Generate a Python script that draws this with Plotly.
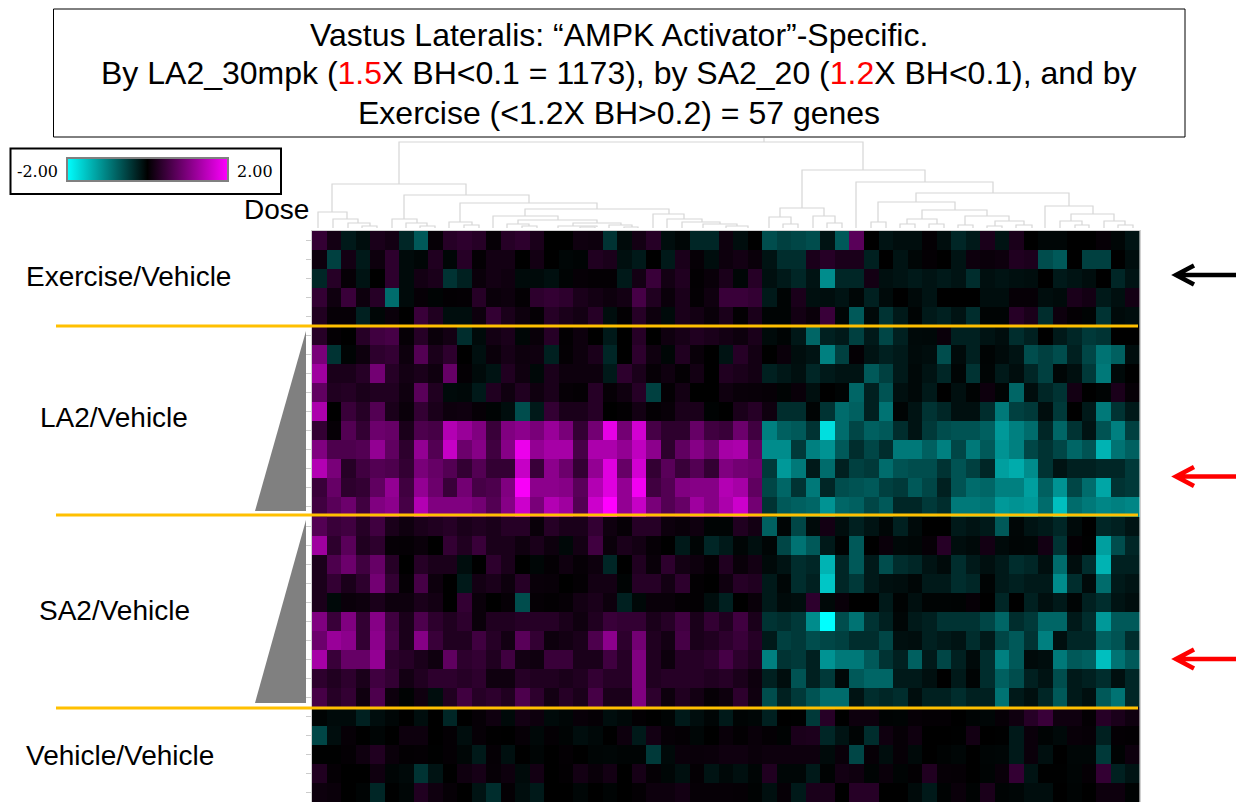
import plotly.graph_objects as go

W, H = 1244, 802

exercise_rows = [
 [.4,.15,-.2,-.1,.2,.15,-.3,-.7,.05,.3,.35,.3,.05,.3,.35,.2,0,0,.12,.1,-.4,-.08,.15,.3,-.1,-.05,-.3,-.3,.1,-.1,0,-.6,-.5,-.55,-.6,-.15,-.7,.7,0,-.15,-.1,-.1,.03,-.1,-.3,-.2,.2,-.15,.2,0,-.05,-.05,0,0,.05,-.05,-.15],
 [.1,-.5,.15,-.2,.1,.35,-.08,-.05,.25,-.05,.3,.03,.15,.15,0,.15,0,-.05,-.03,.25,.2,-.12,-.2,0,-.2,.2,.05,-.1,.1,.15,.08,-.15,-.35,-.35,.2,.3,.2,.2,-.25,0,-.15,-.05,.03,0,-.15,.1,.08,.1,.25,.22,-.6,-.7,0,-.5,-.5,0,-.1],
 [-.3,.3,.05,-.15,0,.35,-.08,.15,.2,-.4,-.25,.08,.15,.12,-.08,-.08,-.12,-.03,.05,.03,.03,-.2,.15,.45,.15,.25,.02,.07,.2,-.05,.3,-.12,-.2,-.3,-.15,-1.1,-.3,-.3,.15,-.12,-.15,-.2,-.15,-.2,-.15,-.35,-.12,-.15,-.12,-.1,0,-.2,-.15,-.1,0,-.3,-.15],
 [.4,.12,.45,.1,.3,-.85,-.08,.05,-.03,.02,.03,.3,.08,.1,.03,.35,.4,.35,.2,.15,.1,.15,.55,.25,.08,.2,.03,.12,.45,.45,.4,-.2,-.03,.2,-.12,-.1,-.15,-.05,-.25,-.08,0,-.07,-.15,0,0,0,-.1,-.1,.05,.05,-.1,-.08,.2,.15,-.2,-.12,.15],
 [.25,.05,.05,-.25,-.05,.08,0,.45,.25,-.1,-.1,.1,.4,.2,.1,.04,.3,.2,.15,.3,-.1,.02,.3,.1,-.08,.2,.15,.07,.2,.02,.2,-.03,-.03,.15,.08,.45,-.05,-.7,-.07,-.4,-.2,-.03,-.2,-.25,-.15,-.35,-.03,-.03,.3,.2,-.35,.1,.03,-.03,-.4,-.08,-.1],
]
la2_rows = [
 [.3,.03,0,.3,.5,.55,.05,.3,.08,.15,-.35,-.08,.15,.2,-.05,.07,.3,.02,.1,0,-.2,0,.3,0,.12,.18,.25,.2,.15,.1,.2,-.08,-.03,-.18,-.8,-.25,-.2,-.5,-.2,-.55,-.25,-.07,-.06,.08,-.25,-.25,-.15,-.1,-.35,-.25,0,-.2,-.3,-.45,-.4,0,0],
 [.95,-.4,-.03,.1,.35,.4,.1,.65,.2,.35,0,-.12,.08,.17,.1,.12,-.25,.03,.1,.2,-.3,0,.35,.12,-.05,.25,.07,0,-.15,.3,.15,0,.08,-.1,-.15,-1.0,-.5,.03,-.15,-.25,-.2,-.08,-.1,-.6,-.08,-.25,-.03,-.08,-.15,-.6,-.5,-.6,-.25,-.55,-.9,-.75,-.1],
 [1.25,.2,.2,.3,.9,.3,.15,.2,.12,.8,.03,-.08,-.15,.25,.12,-.06,.2,.1,.1,.1,-.2,.35,.2,.05,.12,.03,.15,0,.25,.2,.15,-.25,-.18,-.12,-.3,-.2,-.15,-.15,-.7,-.5,-.2,-.06,-.15,-.3,-.04,-.4,-.04,-.2,-.1,-.3,-.5,-.05,-.12,-.45,-.95,-.07,0],
 [.75,.25,.28,.2,.25,.25,.12,.7,.25,-.08,-.06,-.2,.25,.12,.25,.12,.2,.05,.03,.3,.05,.12,.3,-.5,.03,.15,0,0,.12,.07,.06,.05,-.03,.07,-.12,0,-.03,-.8,-.25,-.65,-.12,-.06,-.2,0,-.12,-.02,.1,-.03,-.8,-.1,-.3,-.4,.15,0,-.03,.2,.05],
 [1.35,0,.45,.3,.65,.2,.08,.4,.2,.1,.12,.05,-.03,-.1,-.6,-.2,.4,.2,.2,.3,0,.02,.15,.03,.06,.2,.2,-.02,0,.2,.3,.12,-.35,-.35,-.03,-.4,-.85,-.75,-.25,-.9,-.03,-.15,-.4,-.3,-.12,-.12,-.35,-.95,-.5,-.45,-.1,-.45,0,-.2,-.95,-.4,-.2],
 [.4,.05,.65,.4,.85,.8,.2,.6,.55,1.4,1.2,1.0,.45,1.0,1.1,.95,1.2,.95,.4,.9,1.8,.9,1.65,.55,.35,.35,.8,.5,.45,.85,.5,-1.0,-.75,-.7,-.4,-1.75,-.85,-.55,-.75,-.7,-.35,-.15,-.45,-.6,-.65,-.65,-.75,-1.2,-1.0,-.85,-.3,-.8,-.4,-.15,-.65,-1.0,-.5],
 [1.0,.6,.6,.65,1.15,.75,.35,1.15,.65,1.55,.85,1.05,.5,1.05,1.85,1.15,1.3,1.3,.55,1.35,1.35,1.15,1.5,1.1,.35,.75,1.05,.85,1.3,1.35,.75,-1.1,-1.1,-.45,-1.0,-1.15,-.7,-.35,-.55,-.35,-.95,-.95,-.75,-1.0,-.55,-.95,-.7,-1.15,-1.0,-.55,-.4,-.55,-.8,-.65,-1.4,-.9,-.75],
 [1.4,.95,.3,.5,.65,.6,.4,.95,.8,.65,.4,.65,.4,.4,1.55,.45,1.1,.85,.4,1.15,1.75,.8,1.65,.4,.7,.45,.65,.4,1.0,.9,.85,-.45,-1.2,-.95,-.2,-.85,-.25,-.5,-.45,-.85,-.65,-.6,-.6,-.4,-.65,-.5,-.3,-1.25,-1.35,-1.1,-.4,-.15,-.25,-.25,-.3,-.3,-.45],
 [.45,.8,.35,.4,.75,1.15,.5,1.15,.85,.45,.9,.55,.6,1.0,1.95,1.1,1.1,1.05,.7,1.4,1.75,1.15,1.9,.5,.65,1.0,1.05,1.05,1.4,1.3,.75,-.55,-.8,-.4,-.95,-.3,-.6,-.65,-.7,-.5,-.45,-.7,-.55,-.25,-.65,-.85,-.8,-1.0,-1.0,-1.25,-.75,-1.15,-.55,-.85,-1.3,-.4,-.45],
 [.5,.7,.85,.5,1.0,1.1,.55,1.4,1.0,1.0,1.0,.9,.65,1.05,1.6,.95,1.4,1.25,.65,1.6,2.0,1.15,1.55,.95,.65,.8,1.25,1.05,1.35,1.6,.9,-.4,-.7,-.75,-.8,-1.15,-.8,-.75,-.55,-.7,-.3,-.3,-.45,-.35,-.95,-.95,-.9,-1.2,-1.15,-1.2,-.85,-1.5,-.85,-.95,-1.05,-1.0,-1.05],
]
sa2_rows = [
 [.65,.45,.5,.3,.5,.2,.12,.2,.25,.3,.2,.25,.2,.3,.3,.07,.3,.2,.2,.4,.12,.05,.3,.3,.1,.07,.12,-.03,-.03,.25,.15,-.75,-.04,-.55,-.08,.15,-.1,-.25,-.15,-.05,-.25,-.08,0,0,-.2,-.15,-.2,-.7,-.05,-.15,-.2,-.3,-.08,0,-.3,-.25,-.15],
 [1.25,.35,.7,.25,.35,.05,.04,.08,0,.4,.25,.45,.2,.2,.12,.2,.1,-.06,.15,.5,.08,.2,.15,.05,0,-.2,-.04,-.3,-.2,-.04,-.12,-.04,-.55,-.9,-.7,-.2,-.02,-.7,0,.08,-.06,-.05,.05,.3,-.1,-.07,.15,-.08,-.04,-.05,.15,-.4,.03,-.01,-1.25,-.6,-.3],
 [.2,.6,.85,.5,.8,.3,0,.3,.2,.2,-.1,0,.35,.2,0,-.05,.03,.12,.05,.1,-.3,0,.25,.07,.35,.15,.1,.03,.25,.07,.15,-.07,-.15,-.35,-.3,-1.4,-.3,-.7,-.2,-.6,-.35,-.3,-.15,-.08,-.35,-.2,-.12,-.2,-.35,-.3,-.12,-.85,-.1,-.35,-1.4,-.25,-.25],
 [.2,.4,.2,.35,.9,.4,.04,.55,.1,0,-.2,.15,.2,.1,.3,.07,.06,0,.03,.15,.15,-.03,.3,.3,.15,.35,.02,0,.12,.3,.25,-.2,-.05,-.35,-.25,-1.55,-.3,-.45,-.2,-.12,-.1,-.05,-.2,-.2,-.35,-.3,-.03,-.2,-.25,-.2,-.2,-1.1,-.35,-.08,-.85,-.2,-.15],
 [.2,-.07,.08,.1,.2,.1,.1,.2,.15,0,.4,.08,0,.05,-.6,.04,.02,.05,.15,.2,.1,-.25,-.06,.07,.07,.03,.02,-.1,-.25,0,.07,-.2,-.08,-.1,.35,-.06,.07,0,0,-.2,-.02,-.12,-.03,-.03,-.02,.05,0,-.3,0,-.25,-.12,-.2,-.04,-.25,-.35,-.15,-.1],
 [1.0,.45,1.0,.4,1.05,.5,.2,.6,.35,.25,.35,.08,.25,.25,.3,.3,.3,.2,.12,.25,.45,.4,.4,.2,.3,.5,.2,.4,.25,.5,.2,-.4,-.35,-.45,-1.1,-2.0,-.6,-.9,-.4,-.25,-.05,-.2,-.25,-.4,-.4,-.4,-.55,-.8,-.35,-.45,-.8,-.8,-.2,-.35,-1.2,-.7,-.7],
 [.85,1.2,1.1,.4,1.1,.55,.2,1.05,.45,.25,.25,.5,.3,.15,.7,.4,.1,.15,.2,.6,1.1,.35,.9,.25,.15,.55,.2,.25,.35,.45,.3,-.2,-.5,-.45,-.6,-.55,-.5,-.35,-.35,-.55,-.12,-.1,-.25,-.2,-.15,-.35,-.2,-.55,-.7,-.4,-1.0,-.12,-.3,-.3,-.75,-.65,-.35],
 [1.3,.45,.8,.8,1.15,.35,.3,.2,.12,.75,.35,.4,.25,.5,.15,.12,.45,.45,.2,.2,.5,.3,1.0,.25,.1,.3,.3,.35,.55,.35,.25,-1.0,-.4,-.45,-.25,-1.15,-.95,-.95,-.7,-.4,-.25,-.75,-.2,-.55,-.25,-.08,-.35,-1.0,-.7,-.08,-.1,-.95,-.7,-.75,-1.5,-.9,-.7],
 [.35,.25,.35,.2,.5,.4,.15,.25,.35,.35,.3,.35,.12,.12,.3,.25,.25,.2,.25,.4,.3,.3,1.0,.25,.3,.3,.3,.25,.3,.2,.1,-.25,-.1,-.65,-.25,-.45,-.06,-.7,-.8,-.8,-.2,-.2,-.12,0,-.2,-.03,-.35,-.75,-.6,-.25,-.15,-.6,-.2,-.25,-.35,-.12,-.3],
 [.55,.3,.4,.12,.6,.1,-.02,.12,-.1,.25,.5,.3,.35,.25,.6,.35,.15,.3,.2,.55,.2,.2,1.0,.35,.1,.25,.15,.05,.1,.35,.12,-.6,-.25,-.45,-.65,-.85,-.85,-.15,-.35,-.3,-.35,-.1,-.25,-.25,-.35,-.25,-.25,-.9,-.2,-.12,-.3,-.7,-.2,-.12,-.7,-.9,-.3],
]
vehicle_rows = [
 [-.03,-.08,-.08,-.25,-.1,-.05,0,-.1,0,-.3,0,.05,.12,-.07,.15,.1,-.08,-.05,.06,.04,-.1,-.06,.02,0,-.03,-.2,-.1,-.04,-.2,-.03,-.05,-.25,0,-.01,-.45,.3,0,.1,.1,-.02,-.03,.05,.03,.03,0,-.03,-.05,.05,.12,.3,.45,.12,.12,.03,.3,.2,.12],
 [-.55,-.1,.05,0,-.04,0,.1,.1,0,.03,-.1,.05,.01,0,.05,-.06,.03,-.03,-.1,-.06,0,.1,-.2,.15,.05,.03,-.05,0,.07,.02,.07,.03,-.02,.2,.22,-.3,-.15,-.03,-.35,.12,.05,.12,0,0,-.01,.15,0,-.01,-.2,.08,-.03,-.07,.06,.05,-.25,.03,.02],
 [-.01,-.01,.03,.12,.25,.08,.02,.03,-.01,.03,-.05,-.2,.04,-.12,0,-.04,0,.03,0,-.04,-.05,-.03,-.03,-.45,-.07,.08,.07,.08,.12,.12,.08,.1,.1,.1,.1,-.08,.07,-.55,.05,-.1,.05,-.07,0,-.02,-.05,0,-.04,-.05,-.2,.08,-.12,0,-.05,-.05,-.45,-.02,.1],
 [.25,.04,0,0,.12,-.04,-.07,-.4,-.15,0,.12,.17,.05,.1,-.08,.15,0,.02,.15,.07,.15,0,.17,.04,-.05,-.12,.03,-.15,-.06,-.12,-.04,.25,-.05,-.05,-.2,-.02,.15,.12,-.03,.08,-.03,.02,.25,.05,.04,0,-.03,.07,.4,-.15,-.01,-.01,-.04,.04,.4,-.25,-.15],
 [.1,.08,0,-.03,-.3,-.01,-.05,.25,.12,.05,0,-.15,-.35,.03,-.1,-.2,0,0,-.05,0,-.03,0,.03,.1,.1,.15,.05,.05,.05,.04,-.02,-.12,.05,-.2,.2,.2,0,.3,.3,0,0,-.08,-.2,-.02,.08,-.02,.2,-.03,-.05,-.1,-.1,0,-.03,0,.1,.1,-.02],
]
z_values = exercise_rows + la2_rows + sa2_rows + vehicle_rows
columns = list(range(57))
rows = list(range(30))

# dendrogram merges: left pos, right pos, merge height, left child height, right child height
dendro_merges = [
 (764,764,90,86,86),(399,863,86,44,58),(332,466,44,16,33),(318,347,16,0,9),(333,358,9,0,5),(348,370,5,0,2),(362,377,2,0,0),
 (404,529,33,9,25),(392,417,9,0,5),(406,427,5,0,2),(420,435,2,0,0),(460,597,25,6,19),(449,472,6,0,3),(464,479,3,0,0),
 (525,669,19,12,14),(493,558,12,0,8),(518,597,8,4,5),(507,529,4,0,2),(522,537,2,0,0),(573,621,5,2,3),(558,597,2,0,1),
 (580,595,1,0,0),(609,632,3,0,1),(624,638,1,0,0),(653,684,14,0,9),(667,702,9,0,6),(682,720,6,0,4),(703,737,4,0,2),(726,748,2,0,0),
 (802,925,58,20,46),(780,824,20,11,12),(769,791,11,0,4),(783,798,4,0,0),(813,835,12,0,5),(827,842,5,0,0),
 (856,993,46,0,35),(916,1069,35,26,22),(878,955,26,6,18),(871,886,6,0,0),(922,987,18,9,12),(907,937,9,4,4),(900,915,4,0,0),(929,944,4,0,0),
 (965,1009,12,3,7),(958,973,3,0,0),(995,1024,7,2,3),(987,1002,2,0,0),(1016,1032,3,0,0),
 (1045,1093,22,0,14),(1071,1114,14,7,7),(1060,1082,7,0,3),(1075,1089,3,0,0),(1104,1125,7,0,3),(1118,1133,3,0,0),
]
title_lines = [
 "Vastus Lateralis: “AMPK Activator”-Specific.",
 'By LA2_30mpk (<span style="color:#ff0000">1.5</span>X BH&lt;0.1 = 1173), by SA2_20 (<span style="color:#ff0000">1.2</span>X BH&lt;0.1), and by',
 "Exercise (&lt;1.2X BH&gt;0.2) = 57 genes",
]
group_labels = ["Exercise/Vehicle", "LA2/Vehicle", "SA2/Vehicle", "Vehicle/Vehicle"]


def px(x):
    return x / W


def py(y):
    return 1 - y / H


def text(s, x, y, size, anchor="center", family="Liberation Sans", color="#000000"):
    return dict(text=s, xref="paper", yref="paper", x=px(x), y=py(y), xanchor=anchor, yanchor="middle",
                showarrow=False, font=dict(family=family, size=size, color=color), align="center")


def path(d):
    out = []
    for cmd, x, y in d:
        out.append(f"{cmd}{px(x):.5f},{py(y):.5f}")
    return " ".join(out)


dx, dy = [], []
for xl, xr, h, hl, hr in dendro_merges:
    dx += [xl, xl, xr, xr, None]
    dy += [hl, h, h, hr, None]

fig = go.Figure()
fig.add_trace(go.Heatmap(
    z=z_values, x=columns, y=rows, zmin=-2, zmax=2, hoverongaps=False,
    colorscale=[[0, "#00ffff"], [0.5, "#000000"], [1, "#ff00ff"]],
    colorbar=dict(orientation="h", lenmode="pixels", len=161, thicknessmode="pixels", thickness=23,
                  x=px(147.5), xanchor="center", y=py(158), yanchor="top", xpad=0, ypad=0,
                  outlinecolor="#808080", outlinewidth=2, borderwidth=0, showticklabels=False, ticks=""),
))
fig.add_trace(go.Scatter(x=dx, y=dy, mode="lines", xaxis="x2", yaxis="y2", hoverinfo="skip",
                         line=dict(color="#d6d6d6", width=1.2), showlegend=False))

shapes = [
    dict(type="rect", xref="paper", yref="paper", x0=px(53.5), x1=px(1185), y0=py(9), y1=py(137), line=dict(color="#000000", width=1)),
    dict(type="rect", xref="paper", yref="paper", x0=px(10.5), x1=px(281), y0=py(148.5), y1=py(194), line=dict(color="#000000", width=2)),
]
for poly in ([(306, 331), (306, 511), (255, 511)], [(306, 520), (306, 703), (255, 703)]):
    d = [("M" if i == 0 else "L", a, b) for i, (a, b) in enumerate(poly)]
    shapes.append(dict(type="path", xref="paper", yref="paper", path=path(d) + " Z", fillcolor="#808080", line=dict(width=0)))
for y in (326, 515, 708):
    shapes.append(dict(type="line", xref="paper", yref="paper", x0=px(56), x1=px(1138), y0=py(y), y1=py(y),
                       line=dict(color="#ffc000", width=3)))
for y, color in ((275, "#000000"), (476.5, "#ff0000"), (659, "#ff0000")):
    d = [("M", 1236, y), ("L", 1176, y), ("M", 1194, y - 9.5), ("L", 1176, y), ("L", 1194, y + 9.5)]
    shapes.append(dict(type="path", xref="paper", yref="paper", path=path(d), line=dict(color=color, width=4.5)))

annotations = [
    text(title_lines[0], 619, 35, 32),
    text(title_lines[1], 619, 73, 32),
    text(title_lines[2], 619, 113, 32),
    text("-2.00", 37, 171, 16, family="DejaVu Serif"),
    text("2.00", 254.5, 171, 16, family="DejaVu Serif"),
    text("Dose", 276.5, 209, 28),
    text(group_labels[0], 128.5, 276, 28),
    text(group_labels[1], 113.5, 418, 28),
    text(group_labels[2], 114, 610, 28),
    text(group_labels[3], 120, 755, 28),
]

fig.update_layout(
    width=W, height=H, margin=dict(l=0, r=0, t=0, b=0), paper_bgcolor="#ffffff", plot_bgcolor="#ffffff",
    showlegend=False, shapes=shapes, annotations=annotations,
    xaxis=dict(domain=[px(312), px(1139.5)], range=[-0.5, 56.5], showgrid=False, zeroline=False, showticklabels=False,
               ticks="", showline=True, linecolor="#d0d0d0", linewidth=1, mirror=True),
    yaxis=dict(domain=[0, py(231)], range=[29.5, -0.5], showgrid=False, zeroline=False, showticklabels=False,
               ticks="outside", ticklen=5, tickcolor="#cccccc", tickvals=rows, showline=True, linecolor="#d0d0d0", linewidth=1, mirror=True),
    xaxis2=dict(domain=[px(312), px(1140)], range=[312, 1140], visible=False, anchor="y2"),
    yaxis2=dict(domain=[py(228), py(138)], range=[0, 90], visible=False, anchor="x2"),
)
fig.write_html("out.html", config=dict(displayModeBar=False),
               post_script="document.body.style.margin='0';document.body.style.overflow='hidden';")
